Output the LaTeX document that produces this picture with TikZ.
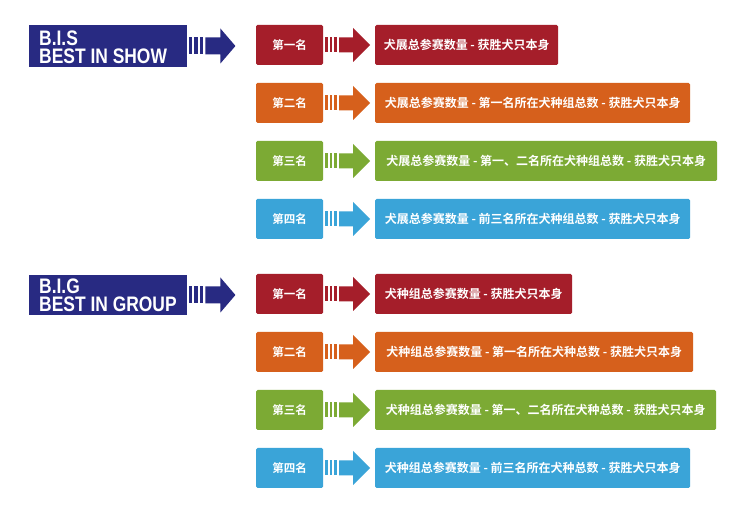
\documentclass[tikz,border=0pt]{standalone}
\usepackage{fontspec}
\newfontfamily\cjk{Noto Sans CJK SC}[BoldFont={Noto Sans CJK SC Bold}]
\newfontfamily\latn{Liberation Sans}
\definecolor{cred}{RGB}{165,30,42}
\definecolor{corange}{RGB}{214,96,28}
\definecolor{cgreen}{RGB}{124,170,52}
\definecolor{cblue}{RGB}{58,164,216}
\definecolor{cnavy}{RGB}{40,42,130}
\tikzset{
  rankbox/.style={fill=#1, rounded corners=1.5pt, minimum width=67pt, minimum height=40pt,
    inner sep=0pt, text=white, font=\cjk\bfseries\fontsize{11.5}{12}\selectfont},
  descbox/.style={fill=#1, rounded corners=1.5pt, minimum height=40pt, anchor=west,
    inner sep=0pt, text=white, font=\cjk\bfseries\fontsize{12}{13}\selectfont},
  bigbox/.style={fill=cnavy, minimum width=158pt, anchor=west, inner sep=0pt},
  bigtext/.style={anchor=north west, inner sep=0pt, text=white, align=left,
    font=\latn\bfseries\fontsize{21}{18}\selectfont},
}
\newcommand{\smallarrow}[2]{%
  \begin{scope}[shift={(#1.east)}]
    \fill[#2] (2,-7.5) rectangle (4.5,7.5);
    \fill[#2] (6.5,-7.5) rectangle (9,7.5);
    \fill[#2] (11,-7.5) rectangle (13.5,7.5);
    \fill[#2] (16,-7.5) -- (30,-7.5) -- (30,-17) -- (47,0) -- (30,17) -- (30,7.5) -- (16,7.5) -- cycle;
  \end{scope}}
\newcommand{\bigarrow}[1]{%
  \begin{scope}[shift={(#1.east)}]
    \fill[cnavy] (1.5,-8.5) rectangle (5,8.5);
    \fill[cnavy] (7,-8.5) rectangle (10.5,8.5);
    \fill[cnavy] (12.5,-8.5) rectangle (16,8.5);
    \fill[cnavy] (18,-8.5) -- (33,-8.5) -- (33,-17.5) -- (48,0) -- (33,17.5) -- (33,8.5) -- (18,8.5) -- cycle;
  \end{scope}}
\begin{document}
\begin{tikzpicture}[x=1pt,y=-1pt]
\useasboundingbox[fill=white] (0,0) rectangle (750,510);
% B.I.S block
\node[bigbox, minimum height=42pt] (bis) at (29,46) {};
\node[bigtext] (bist) at (39,30.5) {\scalebox{0.83}[1]{B.I.S}\\\scalebox{0.83}[1]{BEST IN SHOW}};
\bigarrow{bis}
% B.I.G block
\node[bigbox, minimum height=40pt] (big) at (29,295) {};
\node[bigtext] (bigt) at (39,278.5) {\scalebox{0.83}[1]{B.I.G}\\\scalebox{0.83}[1]{BEST IN GROUP}};
\bigarrow{big}
% rows
\node[rankbox=cred]    (r1) at (289.5,45)  {第一名};
\node[rankbox=corange] (r2) at (289.5,103) {第二名};
\node[rankbox=cgreen]  (r3) at (289.5,161) {第三名};
\node[rankbox=cblue]   (r4) at (289.5,219) {第四名};
\node[rankbox=cred]    (r5) at (289.5,294) {第一名};
\node[rankbox=corange] (r6) at (289.5,352) {第二名};
\node[rankbox=cgreen]  (r7) at (289.5,410) {第三名};
\node[rankbox=cblue]   (r8) at (289.5,468) {第四名};
\node[descbox=cred, minimum width=183pt]    (d1) at (375,45)  {犬展总参赛数量 - 获胜犬只本身};
\node[descbox=corange, minimum width=315pt] (d2) at (375,103) {犬展总参赛数量 - 第一名所在犬种组总数 - 获胜犬只本身};
\node[descbox=cgreen, minimum width=342pt]  (d3) at (375,161) {犬展总参赛数量 - 第一、二名所在犬种组总数 - 获胜犬只本身};
\node[descbox=cblue, minimum width=315pt]   (d4) at (375,219) {犬展总参赛数量 - 前三名所在犬种组总数 - 获胜犬只本身};
\node[descbox=cred, minimum width=197pt]    (d5) at (375,294) {犬种组总参赛数量 - 获胜犬只本身};
\node[descbox=corange, minimum width=318pt] (d6) at (375,352) {犬种组总参赛数量 - 第一名所在犬种总数 - 获胜犬只本身};
\node[descbox=cgreen, minimum width=341pt]  (d7) at (375,410) {犬种组总参赛数量 - 第一、二名所在犬种总数 - 获胜犬只本身};
\node[descbox=cblue, minimum width=315pt]   (d8) at (375,468) {犬种组总参赛数量 - 前三名所在犬种总数 - 获胜犬只本身};
\smallarrow{r1}{cred}
\smallarrow{r2}{corange}
\smallarrow{r3}{cgreen}
\smallarrow{r4}{cblue}
\smallarrow{r5}{cred}
\smallarrow{r6}{corange}
\smallarrow{r7}{cgreen}
\smallarrow{r8}{cblue}
\end{tikzpicture}
\end{document}
